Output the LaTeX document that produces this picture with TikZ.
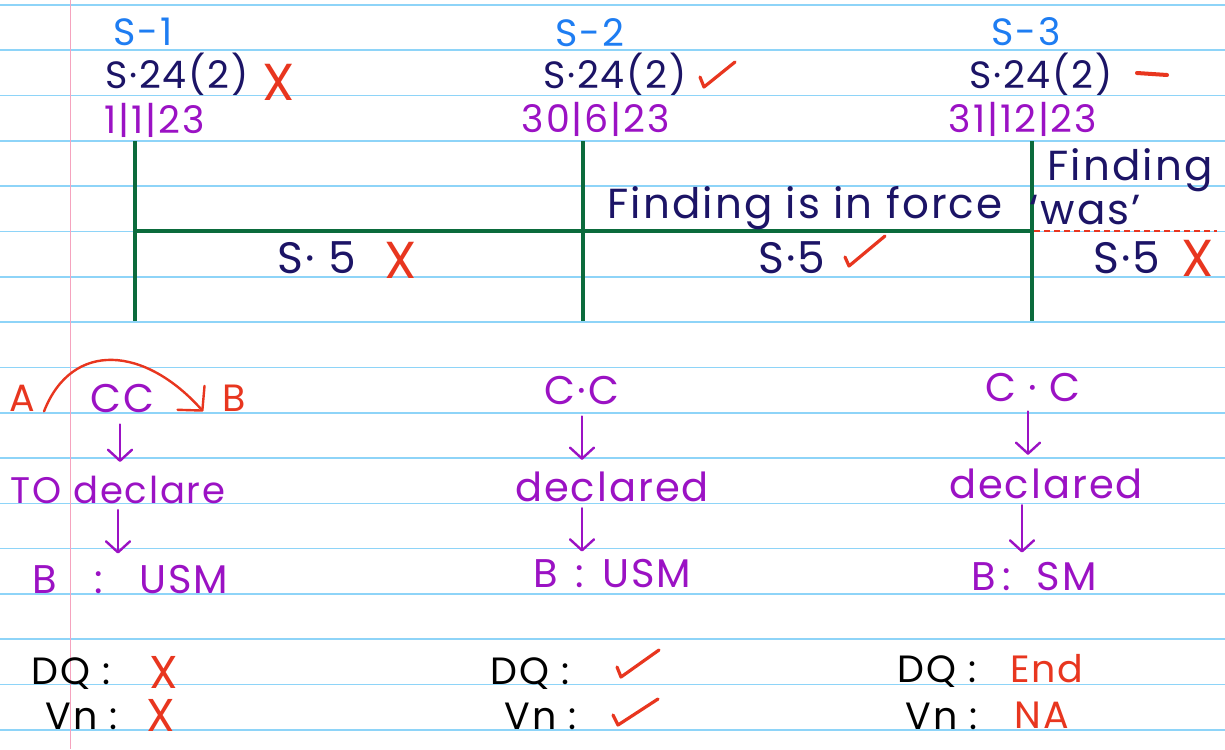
\documentclass[tikz,border=0pt]{standalone}
\usepackage{fontspec}
\setmainfont{Poppins}[LetterSpace=5]
\usetikzlibrary{arrows.meta,calc}
\definecolor{rulec}{HTML}{8ED4F8}
\definecolor{marginc}{HTML}{F5A3BE}
\definecolor{sblue}{HTML}{1E7DF2}
\definecolor{navy}{HTML}{1C1466}
\definecolor{markc}{HTML}{E8361F}
\definecolor{purp}{HTML}{9B12C4}
\definecolor{grn}{HTML}{0B6B3C}
\tikzset{
  lbl/.style={inner sep=0pt, anchor=center},
  slabel/.style={lbl, text=sblue, font=\fontsize{38}{38}\selectfont},
  secl/.style={lbl, text=navy, font=\fontsize{38}{38}\selectfont},
  bigsec/.style={lbl, text=navy, font=\fontsize{44}{44}\selectfont},
  findl/.style={lbl, text=navy, font=\fontsize{42}{42}\selectfont},
  datel/.style={lbl, text=purp, font=\fontsize{38}{38}\selectfont},
  xmk/.style={lbl, text=markc, font=\fontsize{52}{52}\selectfont},
  smxmk/.style={lbl, text=markc, font=\fontsize{46}{46}\selectfont},
  tick/.style={markc, line width=3.2pt, line cap=round, line join=round},
  flowl/.style={lbl, text=purp, font=\fontsize{40}{40}\selectfont},
  todl/.style={lbl, text=purp, font=\fontsize{37}{37}\selectfont},
  redl/.style={lbl, text=markc, font=\fontsize{38}{38}\selectfont},
  dql/.style={lbl, text=black, font=\fontsize{38}{38}\selectfont},
  tline/.style={grn, line width=3.6pt},
  parr/.style={purp, line width=2.4pt, line cap=round, -{Straight Barb[length=11pt, width=24pt, round]}},
}
\begin{document}
\begin{tikzpicture}[x=1pt,y=-1pt]
\fill[white] (0,0) rectangle (1225,749);
\useasboundingbox (0,0) rectangle (1225,749);
% notebook rules
\foreach \k in {0,...,16}{
  \draw[rulec, line width=1.6pt] (0,{5+45.3*\k}) -- (1225,{5+45.3*\k});
}
\draw[marginc, line width=1.4pt] (70.7,0) -- (70.7,749);

% session headings
\node[slabel] (s1) at (143,32) {S-1};
\node[slabel] (s2) at (590,33) {S-2};
\node[slabel] (s3) at (1026,32) {S-3};

\node[secl] (a1) at (177,74) {S·24(2)};
\node[xmk] (x1) at (279,82) {X};
\node[secl] (a2) at (615,74) {S·24(2)};
\draw[tick] (700,77) -- (704,87) -- (735,62);
\node[secl] (a3) at (1041,74) {S·24(2)};
\draw[markc, line width=4pt, line cap=round] (1137,73) -- (1167,75);

\node[datel] (t1) at (155,120) {1|1|23};
\node[datel] (t2) at (596,119) {30|6|23};
\node[datel] (t3) at (1023,119) {31|12|23};

% timeline
\draw[tline] (135,141) -- (135,321);
\draw[tline] (583,141) -- (583,321);
\draw[tline] (1032,141) -- (1032,321);
\draw[tline] (135,231) -- (1032,231);
\draw[markc, line width=2.4pt, dash pattern=on 6pt off 4pt] (1034,231) -- (1217,231);

\node[findl] (f1) at (805,208) {Finding is in force};
\node[findl] (f2) at (1130,170) {Finding};
\node[findl] (f3) at (1085,210) {‘was’};

\node[bigsec] (p1) at (317,258) {S· 5};
\node[xmk] (px1) at (401,260) {X};
\node[bigsec] (p2) at (792,258) {S·5};
\draw[tick] (845,257) -- (849,266) -- (885,236);
\node[bigsec] (p3) at (1127,258) {S·5};
\node[xmk] (px3) at (1198,258) {X};

% column 1
\node[redl] (A) at (22,398) {A};
\node[flowl] (cc1) at (122,398) {CC};
\node[redl] (B) at (234,398) {B};
\draw[markc, line width=2.4pt, line cap=round, -{Straight Barb[length=17pt, width=36pt, round]}]
  ([xshift=9pt]A.south east) .. controls (72,340) and (145,346) .. ([xshift=-19pt]B.south west);
\node[todl] (dec1) at (118,490) {TO declare};
\node[flowl] (bu1) at (130,580) {B\hspace{38pt}:\hspace{36pt}USM};
\coordinate (c1) at (120,0);
\coordinate (c1b) at (118,0);
\draw[parr, shorten <=12pt, shorten >=14pt] (cc1.south -| c1) -- (dec1.north -| c1);
\draw[parr, shorten <=6pt, shorten >=12pt] (dec1.south -| c1b) -- (bu1.north -| c1b);

% column 2
\node[flowl] (cc2) at (582,390) {C·C};
\node[flowl] (dec2) at (612,487) {declared};
\node[flowl] (bu2) at (612,574) {B\hspace{18pt}:\hspace{18pt}USM};
\coordinate (c2) at (582,0);
\draw[parr, shorten <=12pt, shorten >=12pt] (cc2.south -| c2) -- (dec2.north -| c2);
\draw[parr, shorten <=6pt, shorten >=8pt] (dec2.south -| c2) -- (bu2.north -| c2);

% column 3
\node[flowl] (cc3) at (1033,387) {C · C};
\node[flowl] (dec3) at (1046,484) {declared};
\node[flowl] (bu3) at (1034,577) {B\hspace{6pt}:\hspace{26pt}SM};
\coordinate (c3) at (1028,0);
\coordinate (c3b) at (1022,0);
\draw[parr, shorten <=10pt, shorten >=14pt] (cc3.south -| c3) -- (dec3.north -| c3);
\draw[parr, shorten <=6pt, shorten >=10pt] (dec3.south -| c3b) -- (bu3.north -| c3b);

% DQ / Vn
\node[dql] (q1) at (71,674) {DQ :};
\node[smxmk] (qx1) at (164,672) {X};
\node[dql] (v1) at (82,716) {Vn :};
\node[smxmk] (vx1) at (161,715) {X};

\node[dql] (q2) at (530,674) {DQ :};
\draw[tick] (617,667) -- (621,677) -- (659,650);
\node[dql] (v2) at (541,716) {Vn :};
\draw[tick] (613,715) -- (618,725) -- (658,699);

\node[dql] (q3) at (937,672) {DQ :};
\node[redl] (qe3) at (1047,669) {End};
\node[dql] (v3) at (942,716) {Vn :};
\node[redl] (vn3) at (1042,715) {NA};
\end{tikzpicture}
\end{document}
